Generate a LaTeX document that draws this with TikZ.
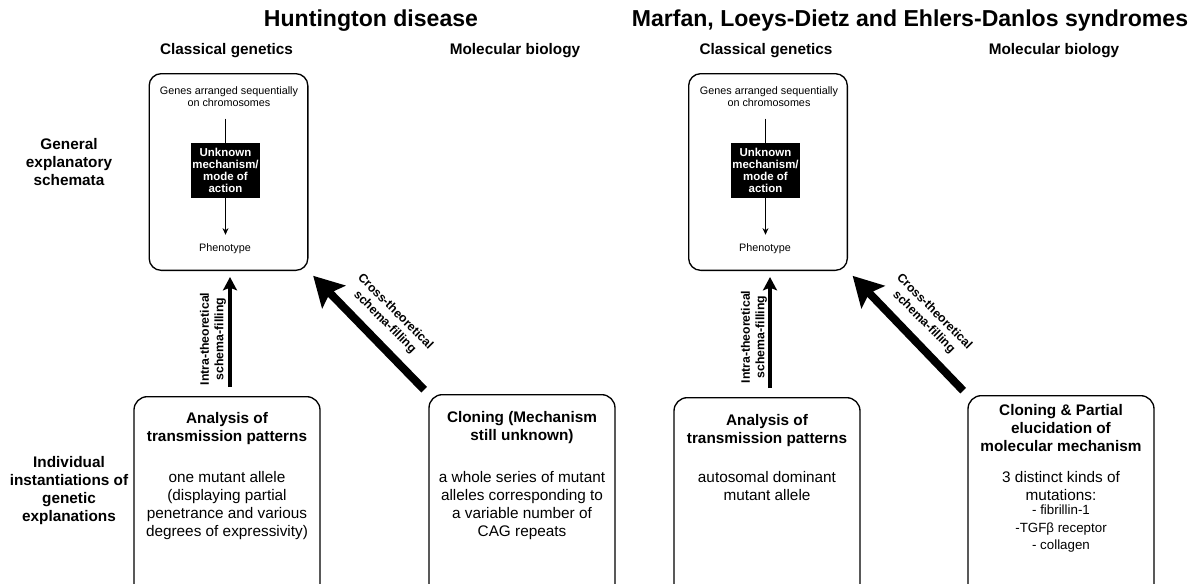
\documentclass[tikz,border=0pt]{standalone}
\usepackage{fontspec}
\setmainfont{Liberation Sans}
\usetikzlibrary{arrows.meta}

\begin{document}
\begin{tikzpicture}[x=0.75pt,y=-0.75pt,
    title/.style={font=\fontsize{17.3}{20}\selectfont\bfseries},
    coltitle/.style={font=\fontsize{11.5}{13.5}\selectfont\bfseries},
    rowlabel/.style={font=\fontsize{11.5}{13.5}\selectfont\bfseries, align=center},
    schemabox/.style={draw, line width=1pt, rounded corners=9pt, minimum width=119pt, minimum height=147.5pt},
    schematext/.style={font=\fontsize{8.1}{9}\selectfont, align=center, inner sep=0pt},
    blackbox/.style={fill=black, text=white, font=\fontsize{8.6}{9}\selectfont\bfseries, align=center, inner sep=0pt, minimum width=51.75pt, minimum height=41.25pt},
    casebox/.style={draw, line width=1pt, rounded corners=10pt, anchor=north, minimum width=139.5pt, minimum height=165pt},
    casehead/.style={font=\fontsize{11.5}{13.5}\selectfont\bfseries, align=center, inner sep=0pt},
    casebody/.style={font=\fontsize{11.5}{13.5}\selectfont, align=center, inner sep=0pt, anchor=north},
    caselist/.style={font=\fontsize{10}{13}\selectfont, align=center, inner sep=0pt, anchor=north},
    intra/.style={line width=3pt, -{Stealth[length=10pt,width=10.5pt,inset=2pt]}, shorten <=6.75pt, shorten >=4.5pt},
    cross/.style={line width=6pt, -{Stealth[length=22pt,width=24pt,inset=4pt]}, shorten <=4.5pt, shorten >=5pt},
    filllabel/.style={font=\fontsize{9.2}{11}\selectfont\bfseries, align=center, inner sep=0pt}]
    \clip (0,0) rectangle (1196,583);

    \node[title] (hdtitle) at (371,21) {Huntington disease};
    \node[title] (mdtitle) at (910,21) {Marfan, Loeys-Dietz and Ehlers-Danlos syndromes};
    \node[coltitle] (hdcgtitle) at (226.5,51) {Classical genetics};
    \node[coltitle] (hdmbtitle) at (515,51) {Molecular biology};
    \node[coltitle] (mdcgtitle) at (766,51) {Classical genetics};
    \node[coltitle] (mdmbtitle) at (1054,51) {Molecular biology};

    \node[rowlabel] (generalrow) at (69,162) {General\\explanatory\\schemata};
    \node[rowlabel] (instancerow) at (69,491) {Individual\\instantiations of\\genetic\\explanations};

    \node[schemabox] (hdschema) at (228.5,172) {};
    \node[schematext] (hdgenes) at (229,97) {Genes arranged sequentially\\on chromosomes};
    \node[blackbox] (hdunknown) at (225.5,170.5) {Unknown\\mechanism/\\mode of\\action};
    \node[schematext] (hdpheno) at (225,249) {Phenotype};
    \draw[line width=0.75pt, shorten <=8.6pt] (hdunknown.north |- hdgenes.south) -- (hdunknown.north);
    \draw[line width=0.75pt, -{Stealth[length=5pt,width=4.5pt]}, shorten >=6.7pt] (hdunknown.south) -- (hdunknown.south |- hdpheno.north);

    \node[schemabox] (mdschema) at (768,172) {};
    \node[schematext] (mdgenes) at (769,97) {Genes arranged sequentially\\on chromosomes};
    \node[blackbox] (mdunknown) at (765.5,170.5) {Unknown\\mechanism/\\mode of\\action};
    \node[schematext] (mdpheno) at (765,249) {Phenotype};
    \draw[line width=0.75pt, shorten <=8.6pt] (mdunknown.north |- mdgenes.south) -- (mdunknown.north);
    \draw[line width=0.75pt, -{Stealth[length=5pt,width=4.5pt]}, shorten >=6.7pt] (mdunknown.south) -- (mdunknown.south |- mdpheno.north);

    \node[casebox] (hdcg) at (227,396) {};
    \node[casehead] (hdcghead) at (227,428.5) {Analysis of\\transmission patterns};
    \node[casebody] (hdcgbody) at (227,471) {one mutant allele\\(displaying partial\\penetrance and various\\degrees of expressivity)};

    \node[casebox] (hdmb) at (522,394) {};
    \node[casehead] (hdmbhead) at (522,427.5) {Cloning (Mechanism\\still unknown)};
    \node[casebody] (hdmbbody) at (522,471) {a whole series of mutant\\alleles corresponding to\\a variable number of\\CAG repeats};

    \node[casebox] (mdcg) at (767,397) {};
    \node[casehead] (mdcghead) at (767,430.5) {Analysis of\\transmission patterns};
    \node[casebody] (mdcgbody) at (767,471) {autosomal dominant\\mutant allele};

    \node[casebox] (mdmb) at (1061,395) {};
    \node[casehead] (mdmbhead) at (1061,428) {Cloning \& Partial\\elucidation of\\molecular mechanism};
    \node[casebody] (mdmbbody) at (1061,471) {3 distinct kinds of\\mutations:};
    \node[caselist] (mdmblist) at (1061,505) {- fibrillin-1\\-TGFβ receptor\\- collagen};

    \draw[intra] ([xshift=2.25pt]hdcg.north) -- ([xshift=2.25pt]hdcg.north |- hdschema.south);
    \draw[cross] (hdmb.north west) -- (hdschema.south east);
    \node[filllabel, rotate=90] (hdintra) at (213,339) {Intra-theoretical\\schema-filling};
    \node[filllabel, rotate=-45] (hdcross) at (390,317) {Cross-theoretical\\schema-filling};

    \draw[intra] ([xshift=2.25pt]mdcg.north) -- ([xshift=2.25pt]mdcg.north |- mdschema.south);
    \draw[cross] (mdmb.north west) -- (mdschema.south east);
    \node[filllabel, rotate=90] (mdintra) at (754,337) {Intra-theoretical\\schema-filling};
    \node[filllabel, rotate=-45] (mdcross) at (929,317) {Cross-theoretical\\schema-filling};
\end{tikzpicture}
\end{document}
